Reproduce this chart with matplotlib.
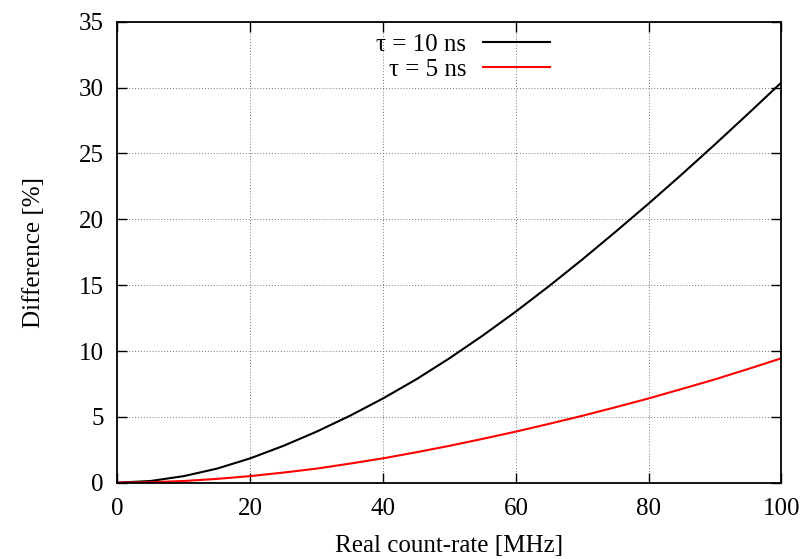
import matplotlib
matplotlib.use("Agg")
import matplotlib.pyplot as plt

# real count-rate [MHz]
rate = [0, 5, 10, 15, 20, 25, 30, 35, 40, 45, 50, 55, 60, 65, 70, 75, 80, 85, 90, 95, 100]
# difference [%] for the two dead times
diff_10ns = [0, 0.13, 0.5, 1.07, 1.85, 2.8, 3.88, 5.08, 6.4, 7.85, 9.45, 11.17, 13.0, 14.93,
             16.95, 19.05, 21.2, 23.42, 25.7, 28.03, 30.4]
diff_5ns = [0, 0.035, 0.13, 0.29, 0.5, 0.77, 1.07, 1.45, 1.85, 2.31, 2.8, 3.33, 3.88, 4.47,
            5.08, 5.73, 6.4, 7.12, 7.85, 8.64, 9.45]

plt.rcParams["font.family"] = ["Liberation Serif", "DejaVu Serif"]
plt.rcParams["font.size"] = 18

fig = plt.figure(figsize=(8.09, 5.59), dpi=100)
ax = fig.add_axes([0.1452, 0.1365, 0.8208, 0.8245])

ax.plot(rate, diff_10ns, color="black", lw=1.5, label="τ = 10 ns")
ax.plot(rate, diff_5ns, color="#ff0000", lw=1.5, label="τ = 5 ns")

ax.set_xlim(0, 100)
ax.set_ylim(0, 35)
ax.set_xticks(range(0, 101, 20))
ax.set_yticks(range(0, 36, 5))
ax.grid(True, color="#777777", linestyle=(0, (1, 2)), lw=0.7)
ax.tick_params(direction="in", length=7, width=1, top=True, right=True)
ax.tick_params(axis="x", pad=11)
ax.tick_params(axis="y", pad=10)
for s in ax.spines.values():
    s.set_linewidth(1.3)

ax.set_xlabel("Real count-rate [MHz]", labelpad=11)
ax.set_ylabel("Difference [%]", labelpad=24)

ax.legend(loc="upper right", bbox_to_anchor=(0.6514, 0.975), frameon=False, markerfirst=False,
          handlelength=2.7, labelspacing=0.1, borderaxespad=0, borderpad=0, handletextpad=0.65)

fig.savefig("out.png", dpi=100)
